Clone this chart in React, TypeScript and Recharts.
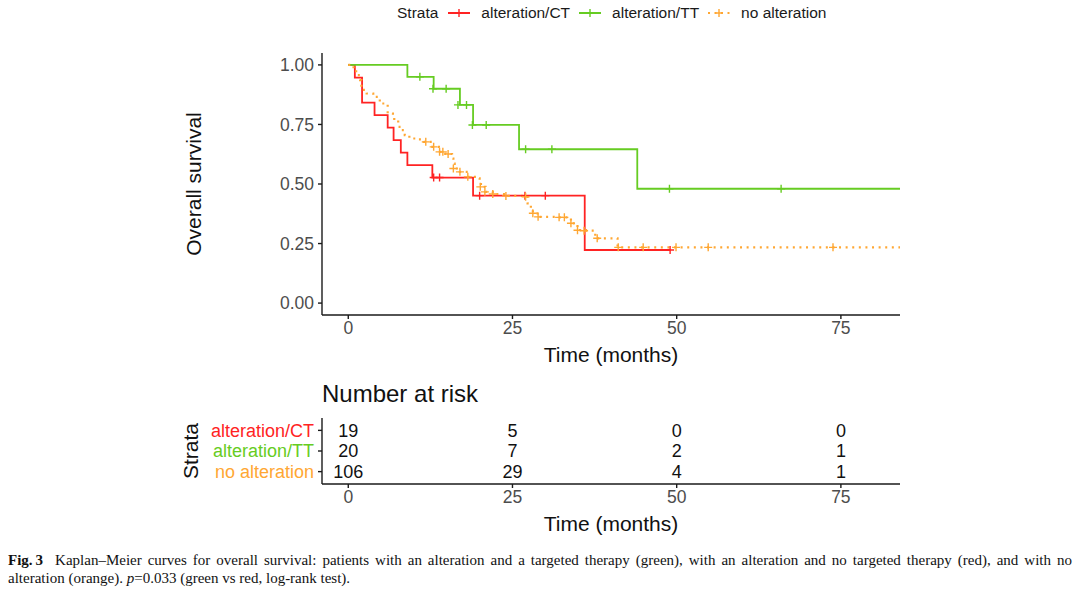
import React from "react";
import { ComposedChart, Line, Scatter, XAxis, YAxis, Legend, LabelList } from "recharts";

const strata = ["alteration/CT", "alteration/TT", "no alteration"];
const strataColors = ["#FF2323", "#66CC22", "#FFA733"];

// survival steps [time (months), survival]
const ctSteps = [
  [0, 1], [1, 0.947], [2.1, 0.842], [4, 0.789], [6, 0.737], [6.9, 0.684], [8, 0.632],
  [9, 0.579], [12.8, 0.527], [19, 0.451], [36, 0.223], [49, 0.223],
];
const ttSteps = [
  [0, 1], [9, 0.95], [13, 0.9], [17, 0.832], [19, 0.748], [26, 0.646], [44, 0.48], [84, 0.48],
];
const noSteps = [
  [0, 1], [0.8, 0.98], [1.2, 0.957], [1.8, 0.936], [2, 0.895], [2.8, 0.88], [3.8, 0.866],
  [4.8, 0.838], [6, 0.796], [6.8, 0.789], [7, 0.768], [7.6, 0.74], [8, 0.726], [8.6, 0.705],
  [9.3, 0.691], [10.3, 0.687], [11.5, 0.677], [12.8, 0.656], [13.8, 0.635], [14.8, 0.626],
  [15.8, 0.607], [16, 0.586], [16.2, 0.565], [17, 0.551], [18.3, 0.53], [19.8, 0.524],
  [20, 0.505], [20.2, 0.488], [20.9, 0.467], [22, 0.458], [24, 0.45], [27, 0.446],
  [27.3, 0.419], [27.8, 0.398], [28.1, 0.377], [29, 0.362], [32, 0.36], [33.9, 0.335],
  [34.9, 0.306], [36.2, 0.304], [37.6, 0.272], [41, 0.234], [84, 0.234],
];

// censored observations
const ctCensor = [[13, 0.527], [13.9, 0.527], [20, 0.451], [26.9, 0.451], [30, 0.451], [49, 0.223]];
const ttCensor = [
  [10.9, 0.95], [12.9, 0.9], [14.9, 0.9], [16.7, 0.832], [18, 0.832], [18.9, 0.748],
  [21, 0.748], [27, 0.646], [31, 0.646], [48.9, 0.48], [65.9, 0.48],
];
const noCensor = [
  [11.8, 0.677], [13, 0.656], [13.9, 0.635], [14.4, 0.635], [15.2, 0.626], [16, 0.565],
  [17, 0.551], [18.2, 0.53], [20.1, 0.488], [20.8, 0.467], [22, 0.458], [24, 0.45],
  [27, 0.446], [28.1, 0.377], [28.9, 0.362], [32.1, 0.36], [32.9, 0.36], [33.9, 0.335],
  [34.9, 0.306], [35.9, 0.304], [37.9, 0.272], [41.1, 0.234], [44.9, 0.234], [49.9, 0.234],
  [54.8, 0.234], [73.8, 0.234],
];

const riskTimes = [0, 25, 50, 75];
const riskCT = [19, 5, 0, 0];
const riskTT = [20, 7, 2, 1];
const riskNo = [106, 29, 4, 1];

const xTicks = [0, 25, 50, 75];
const yTicks = [0, 0.25, 0.5, 0.75, 1];

const FONT = '"Liberation Sans", Arial, Helvetica, sans-serif';
const SERIF = '"Liberation Serif", "DejaVu Serif", serif';
const AXIS = "#1a1a1a";

const toPts = (arr: number[][]) => arr.map(([t, s]) => ({ t, s }));
const curves = [ctSteps, ttSteps, noSteps].map(toPts);
const censors = [ctCensor, ttCensor, noCensor].map(toPts);
const riskRows = [riskCT, riskTT, riskNo].map((vals, i) =>
  vals.map((n, j) => ({ t: riskTimes[j], row: i + 1, n }))
);

function Plus({ cx, cy, color }: any) {
  if (cx == null || cy == null) return <g />;
  return (
    <path
      d={`M${cx - 4},${cy}h8M${cx},${cy - 4}v8`}
      stroke={color}
      strokeWidth={1.4}
      fill="none"
    />
  );
}

function LegendKey({ color, dotted }: { color: string; dotted: boolean }) {
  return (
    <svg width={22} height={12} style={{ display: "block" }}>
      <line
        x1={0}
        x2={22}
        y1={6}
        y2={6}
        stroke={color}
        strokeWidth={2}
        strokeDasharray={dotted ? "2 4.5" : undefined}
      />
      <path d="M11,2v8M7,6h8" stroke={color} strokeWidth={1.4} />
    </svg>
  );
}

function renderLegend() {
  return (
    <div
      style={{
        display: "flex",
        alignItems: "center",
        fontFamily: FONT,
        fontSize: 15.5,
        color: "#1a1a1a",
        whiteSpace: "nowrap",
        height: 22,
      }}
    >
      <span style={{ marginRight: 10 }}>Strata</span>
      {strata.map((s, i) => (
        <span key={s} style={{ display: "flex", alignItems: "center", marginRight: 9 }}>
          <LegendKey color={strataColors[i]} dotted={i === 2} />
          <span style={{ marginLeft: 11 }}>{s}</span>
        </span>
      ))}
    </div>
  );
}

function rotatedTitle(text: string, fromRight: number) {
  return (props: any) => {
    const vb = props.viewBox || {};
    const x = vb.x + vb.width - fromRight;
    const y = vb.y + vb.height / 2;
    return (
      <text
        x={x}
        y={y}
        transform={`rotate(-90 ${x} ${y})`}
        textAnchor="middle"
        dominantBaseline="central"
        fontFamily={FONT}
        fontSize={21}
        fill="#111"
      >
        {text}
      </text>
    );
  };
}

function StrataTick(props: any) {
  const { x, y, payload } = props;
  const i = payload.value - 1;
  return (
    <text
      x={x}
      y={y}
      dy="0.35em"
      textAnchor="end"
      fontFamily={FONT}
      fontSize={18}
      fill={strataColors[i]}
    >
      {strata[i]}
    </text>
  );
}

const tickStyle = { fill: "#4D4D4D", fontSize: 17.5, fontFamily: FONT };
const axisLine = { stroke: AXIS, strokeWidth: 1.4 };

const captionLine = {
  fontFamily: SERIF,
  fontSize: 15,
  lineHeight: "18px",
  height: 18,
  color: "#111",
  whiteSpace: "nowrap" as const,
};

export default function App() {
  return (
    <div
      style={{
        position: "fixed",
        left: 0,
        top: 0,
        width: 1080,
        height: 595,
        background: "#fff",
        overflow: "hidden",
      }}
    >
      <ComposedChart width={1080} height={370} margin={{ top: 53, right: 180, bottom: 0, left: 0 }}>
        <XAxis
          type="number"
          dataKey="t"
          domain={[-4, 84]}
          allowDataOverflow
          ticks={xTicks}
          interval={0}
          height={55}
          tick={tickStyle}
          axisLine={axisLine}
          tickLine={axisLine}
          tickSize={4}
          tickMargin={3}
          label={{
            value: "Time (months)",
            position: "insideBottom",
            offset: 8,
            fontSize: 21,
            fontFamily: FONT,
            fill: "#111",
          }}
        />
        <YAxis
          type="number"
          domain={[-0.05, 1.05]}
          allowDataOverflow
          ticks={yTicks}
          interval={0}
          width={322}
          tick={tickStyle}
          tickFormatter={(v: number) => v.toFixed(2)}
          axisLine={axisLine}
          tickLine={axisLine}
          tickSize={4}
          tickMargin={4}
          label={{ content: rotatedTitle("Overall survival", 129) }}
        />
        <Legend
          layout="horizontal"
          verticalAlign="middle"
          align="center"
          wrapperStyle={{ top: 2, left: 397, width: 600 }}
          content={renderLegend}
        />
        {curves.map((d, i) => (
          <Line
            key={strata[i]}
            data={d}
            dataKey="s"
            type="stepAfter"
            stroke={strataColors[i]}
            strokeWidth={i === 2 ? 2.2 : 1.8}
            strokeDasharray={i === 2 ? "2 4.6" : undefined}
            dot={false}
            activeDot={false}
            isAnimationActive={false}
          />
        ))}
        {censors.map((d, i) => (
          <Scatter
            key={strata[i] + "-c"}
            data={d}
            dataKey="s"
            shape={(p: any) => <Plus cx={p.cx} cy={p.cy} color={strataColors[i]} />}
            isAnimationActive={false}
          />
        ))}
      </ComposedChart>

      <div
        style={{
          position: "absolute",
          left: 322,
          top: 380,
          height: 28,
          lineHeight: "28px",
          fontFamily: FONT,
          fontSize: 24,
          color: "#111",
        }}
      >
        Number at risk
      </div>

      <div style={{ position: "absolute", left: 0, top: 405 }}>
        <ComposedChart width={1080} height={135} margin={{ top: 13, right: 180, bottom: 0, left: 0 }}>
          <XAxis
            type="number"
            dataKey="t"
            domain={[-4, 84]}
            allowDataOverflow
            ticks={xTicks}
            interval={0}
            height={56}
            tick={tickStyle}
            axisLine={axisLine}
            tickLine={axisLine}
            tickSize={4}
            tickMargin={3}
            label={{
              value: "Time (months)",
              position: "insideBottom",
              offset: 9,
              fontSize: 21,
              fontFamily: FONT,
              fill: "#111",
            }}
          />
          <YAxis
            type="number"
            domain={[0.4, 3.6]}
            reversed
            ticks={[1, 2, 3]}
            interval={0}
            width={322}
            tick={StrataTick}
            axisLine={axisLine}
            tickLine={axisLine}
            tickSize={4}
            tickMargin={4}
            label={{ content: rotatedTitle("Strata", 132) }}
          />
          {riskRows.map((d, i) => (
            <Scatter
              key={"risk-" + strata[i]}
              data={d}
              dataKey="row"
              shape={() => <g />}
              isAnimationActive={false}
            >
              <LabelList
                dataKey="n"
                position="center"
                fontSize={18}
                fontFamily={FONT}
                fill="#111"
              />
            </Scatter>
          ))}
        </ComposedChart>
      </div>

      <div style={{ position: "absolute", left: 8, top: 551, width: 1064 }}>
        <div style={{ ...captionLine, display: "flex", justifyContent: "space-between" }}>
          <span style={{ fontWeight: "bold", marginRight: 12 }}>Fig.&thinsp;3</span>
          <span
            style={{
              flex: 1,
              textAlign: "justify",
              textAlignLast: "justify",
              whiteSpace: "normal",
            }}
          >
            Kaplan–Meier curves for overall survival: patients with an alteration and a targeted
            therapy (green), with an alteration and no targeted therapy (red), and with no
          </span>
        </div>
        <div style={captionLine}>
          <span>alteration (orange). </span>
          <span style={{ fontStyle: "italic" }}>p</span>
          <span>=0.033 (green vs red, log-rank test).</span>
        </div>
      </div>
    </div>
  );
}
